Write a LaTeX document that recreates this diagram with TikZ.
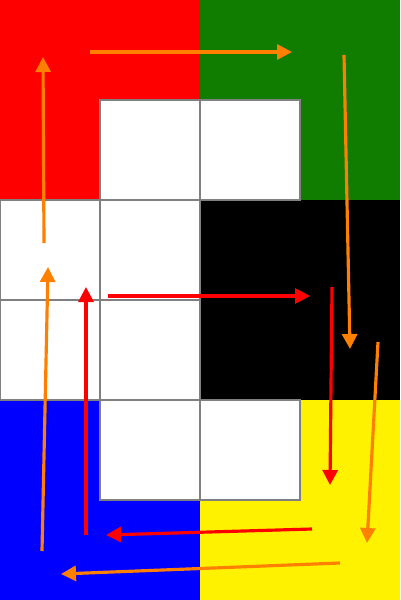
\documentclass[tikz,border=0pt]{standalone}
\usetikzlibrary{arrows.meta}
\definecolor{darkgreen}{RGB}{16,124,0}
\definecolor{flowOrange}{RGB}{255,128,0}
\tikzset{
  cell/.style={draw=gray, line width=0.5pt, fill=white},
  orangeflow/.style={->, flowOrange, line width=0.9pt},
  redflow/.style={->, red, line width=0.9pt}
}
\begin{document}
\begin{tikzpicture}[x=1cm, y=-1cm, >={Triangle[length=0.15cm,width=0.15cm]}]
    \useasboundingbox (0,0) rectangle (4,6);
    % Quadrants
    \fill[red] (0,0) rectangle (2,2);
    \fill[darkgreen] (2,0) rectangle (4,2);
    \fill[black] (2,2) rectangle (4,4);
    \fill[blue] (0,4) rectangle (2,6);
    \fill[yellow] (2,4) rectangle (4,6);
    % White cells
    \foreach \x/\y in {1/1, 2/1, 0/2, 1/2, 0/3, 1/3, 1/4, 2/4}
        \draw[cell] (\x,\y) rectangle ++(1,1);
    % Outer loop ends
    \coordinate (o1s) at (0.44,2.43); \coordinate (o1e) at (0.43,0.57);
    \coordinate (o2s) at (0.90,0.52); \coordinate (o2e) at (2.92,0.52);
    \coordinate (o3s) at (3.44,0.55); \coordinate (o3e) at (3.50,3.49);
    \coordinate (o4s) at (3.78,3.42); \coordinate (o4e) at (3.67,5.43);
    \coordinate (o5s) at (3.40,5.63); \coordinate (o5e) at (0.61,5.74);
    \coordinate (o6s) at (0.42,5.51); \coordinate (o6e) at (0.48,2.67);
    % Inner loop ends
    \coordinate (r1s) at (1.08,2.96); \coordinate (r1e) at (3.10,2.96);
    \coordinate (r2s) at (3.32,2.87); \coordinate (r2e) at (3.30,4.85);
    \coordinate (r3s) at (3.12,5.29); \coordinate (r3e) at (1.06,5.35);
    \coordinate (r4s) at (0.86,5.35); \coordinate (r4e) at (0.86,2.87);
    % Outer loop
    \foreach \i in {1,...,6}
        \draw[orangeflow] (o\i s) -- (o\i e);
    % Inner loop
    \foreach \i in {1,...,4}
        \draw[redflow] (r\i s) -- (r\i e);
\end{tikzpicture}
\end{document}
